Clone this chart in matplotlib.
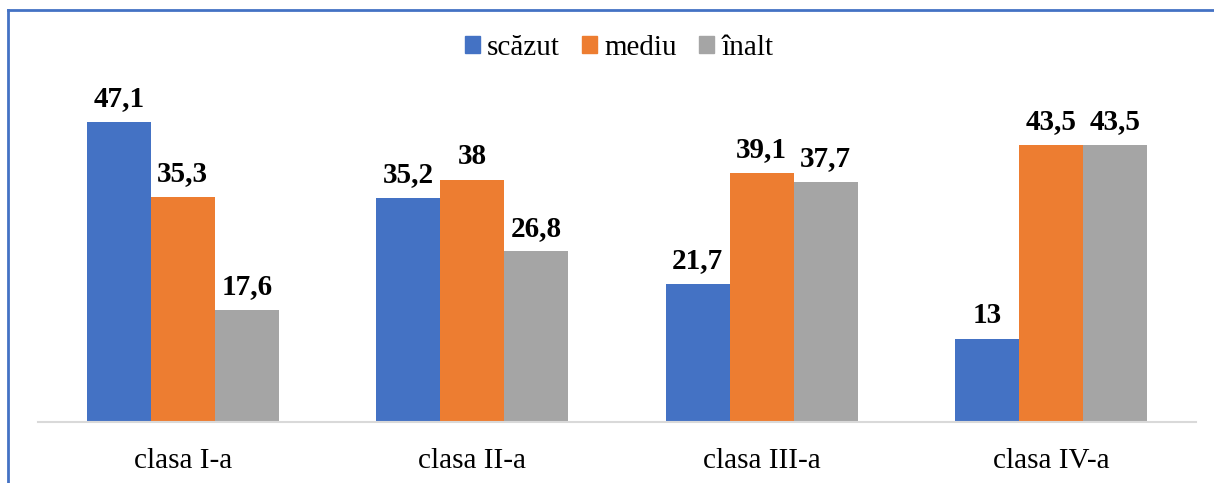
import matplotlib.pyplot as plt
import numpy as np
from matplotlib.patches import Rectangle

# Data
categories = ["clasa I-a", "clasa II-a", "clasa III-a", "clasa IV-a"]
series_names = ["scăzut", "mediu", "înalt"]
scazut = [47.1, 35.2, 21.7, 13]
mediu = [35.3, 38, 39.1, 43.5]
inalt = [17.6, 26.8, 37.7, 43.5]
colors = ["#4472C4", "#ED7D31", "#A5A5A5"]

plt.rcParams['font.family'] = ['Liberation Serif', 'DejaVu Serif']

W, H = 1214, 483
fig = plt.figure(figsize=(W / 100, H / 100), dpi=100)
ax = fig.add_axes([38 / W, (H - 422) / H, (1196 - 38) / W, (422 - 103.5) / H])

x = np.arange(len(categories))
width = 0.221
for i, (vals, name) in enumerate(zip([scazut, mediu, inalt], series_names)):
    pos = x + (i - 1) * width
    bars = ax.bar(pos, vals, width, color=colors[i], label=name)
    for b, v in zip(bars, vals):
        lbl = f"{v:g}".replace(".", ",")
        ax.annotate(lbl, (b.get_x() + b.get_width() / 2, v), xytext=(0, 7),
                    textcoords="offset points", ha="center", va="bottom",
                    fontsize=21, fontweight="bold")

ax.set_xlim(-0.5, len(categories) - 0.5)
ax.set_ylim(0, 50)
ax.set_xticks(x)
ax.set_xticklabels(categories, fontsize=21)
ax.tick_params(axis="x", length=0, pad=19)
ax.set_yticks([])
for s in ["top", "right", "left"]:
    ax.spines[s].set_visible(False)
ax.spines["bottom"].set_color("#D9D9D9")
ax.spines["bottom"].set_linewidth(1.5)

# Legend
handles = [Rectangle((0, 0), 1, 1, color=c) for c in colors]
fig.legend(handles, series_names, loc="center", bbox_to_anchor=(619 / W, (H - 48) / H),
           ncol=3, frameon=False, fontsize=21, handlelength=0.52, handleheight=0.52,
           handletextpad=0.25, columnspacing=0.75)

# Blue border (top and left)
fig.add_artist(plt.Line2D([8 / W, 8 / W], [0, (H - 10) / H], color="#4472C4", lw=2,
                          transform=fig.transFigure))
fig.add_artist(plt.Line2D([8 / W, 1], [(H - 10) / H, (H - 10) / H], color="#4472C4", lw=2,
                          transform=fig.transFigure))

fig.savefig("out.png", dpi=100)
